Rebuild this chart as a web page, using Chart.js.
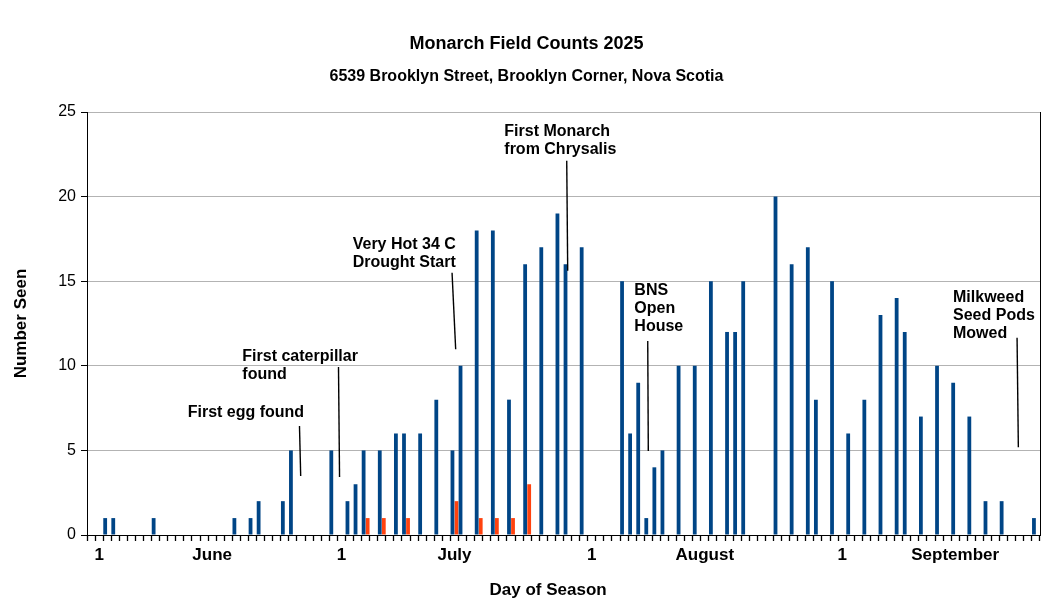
<!DOCTYPE html>
<html>
<head>
<meta charset="utf-8">
<script src="https://cdn.jsdelivr.net/npm/chart.js@4.4.1/dist/chart.umd.min.js"></script>
<style>
  html, body { margin: 0; padding: 0; background: #ffffff; }
  #wrap { width: 1053px; height: 608px; }
</style>
</head>
<body>
<div id="wrap"><canvas id="c" width="1053" height="608"></canvas></div>
<script>
// ---------------- DATA ----------------
const seasonStartYear = 2025, seasonStartMonth = 4, seasonStartDay = 31; // May 31, 2025
const seasonLength = 118; // May 31 .. Sep 25
const monthAbbr = ['Jan','Feb','Mar','Apr','May','Jun','Jul','Aug','Sep','Oct','Nov','Dec'];

// Blue series: dates and counts
const blueDates = [
  'Jun 2','Jun 3','Jun 8','Jun 18','Jun 20','Jun 21','Jun 24','Jun 25','Jun 30',
  'Jul 2','Jul 3','Jul 4','Jul 6','Jul 8','Jul 9','Jul 11','Jul 13','Jul 15','Jul 16',
  'Jul 18','Jul 20','Jul 22','Jul 24','Jul 26','Jul 28','Jul 29','Jul 31',
  'Aug 5','Aug 6','Aug 7','Aug 8','Aug 9','Aug 10','Aug 12','Aug 14','Aug 16','Aug 18',
  'Aug 19','Aug 20','Aug 24','Aug 26','Aug 28','Aug 29','Aug 31',
  'Sep 2','Sep 4','Sep 6','Sep 8','Sep 9','Sep 11','Sep 13','Sep 15','Sep 17','Sep 19',
  'Sep 21','Sep 23','Sep 25'
];
const blueCounts = [
  1,1,1,1,1,2,2,5,5,
  2,3,5,5,6,6,6,8,5,10,
  18,18,8,16,17,19,16,17,
  15,6,9,1,4,5,10,10,15,12,
  12,15,20,16,17,8,15,
  6,8,13,14,12,7,10,9,7,2,
  2,0,1
];

// Orange series: dates and counts
const orangeDates  = ['Jul 4','Jul 6','Jul 9','Jul 15','Jul 18','Jul 20','Jul 22','Jul 24'];
const orangeCounts = [1,1,1,2,1,1,1,3];

// Tick labels on the day axis
const tickLabels = {
  'Jun 1':'1', 'Jun 15':'June',
  'Jul 1':'1', 'Jul 15':'July',
  'Aug 1':'1', 'Aug 15':'August',
  'Sep 1':'1', 'Sep 15':'September'
};

// Notes: text lines, text anchor [day offset, count], leader line [[day,count],[day,count]]
const notes = [
  { lines: ['First egg found'],                 at: [12.47, 7.21],  leader: [[26.31, 6.44], [26.46, 3.49]] },
  { lines: ['First caterpillar', 'found'],      at: [19.23, 10.54], leader: [[31.14, 9.93], [31.27, 3.43]] },
  { lines: ['Very Hot 34 C', 'Drought Start'],  at: [32.90, 17.17], leader: [[45.20, 15.50], [45.65, 10.98]] },
  { lines: ['First Monarch', 'from Chrysalis'], at: [51.67, 23.85], leader: [[59.40, 22.12], [59.52, 15.62]] },
  { lines: ['BNS', 'Open', 'House'],            at: [67.77, 14.45], leader: [[69.43, 11.47], [69.50, 4.96]] },
  { lines: ['Milkweed', 'Seed Pods', 'Mowed'],  at: [107.23, 14.05], leader: [[115.16, 11.66], [115.32, 5.18]] }
];

// ---------------- BUILD ----------------
const categories = [];
for (let i = 0; i < seasonLength; i++) {
  const d = new Date(seasonStartYear, seasonStartMonth, seasonStartDay + i);
  categories.push(monthAbbr[d.getMonth()] + ' ' + d.getDate());
}
const blueData = blueDates.map((d, i) => ({ x: d, y: blueCounts[i] }));
const orangeData = orangeDates.map((d, i) => ({ x: d, y: orangeCounts[i] }));

const FONT = '"Liberation Sans", Arial, Helvetica, sans-serif';

const overlay = {
  id: 'overlay',
  afterDraw(chart) {
    const { ctx, chartArea: a, scales: { y } } = chart;
    const w = a.width / categories.length;
    const px = d => a.left + d * w;
    ctx.save();
    // right frame line
    ctx.strokeStyle = '#000';
    ctx.lineWidth = 1;
    const rx = Math.round(a.right) + 0.5;
    ctx.beginPath();
    ctx.moveTo(rx, a.top);
    ctx.lineTo(rx, a.bottom);
    ctx.stroke();
    // notes
    ctx.fillStyle = '#000';
    ctx.font = 'bold 16px ' + FONT;
    ctx.textAlign = 'left';
    ctx.textBaseline = 'middle';
    notes.forEach(n => {
      const tx = px(n.at[0]);
      const ty = y.getPixelForValue(n.at[1]);
      n.lines.forEach((t, i) => ctx.fillText(t, tx, ty + i * 18));
      ctx.lineWidth = 1.4;
      ctx.beginPath();
      ctx.moveTo(px(n.leader[0][0]), y.getPixelForValue(n.leader[0][1]));
      ctx.lineTo(px(n.leader[1][0]), y.getPixelForValue(n.leader[1][1]));
      ctx.stroke();
    });
    // x axis title
    ctx.font = 'bold 17px ' + FONT;
    ctx.textAlign = 'center';
    ctx.fillText('Day of Season', px(57.1), chart.height - 18);
    ctx.restore();
  }
};

new Chart(document.getElementById('c'), {
  type: 'bar',
  data: {
    labels: categories,
    datasets: [
      { label: 'Series 1', data: blueData, backgroundColor: '#004586', borderWidth: 0,
        categoryPercentage: 1.0, barPercentage: 0.94 },
      { label: 'Series 2', data: orangeData, backgroundColor: '#ff420e', borderWidth: 0,
        categoryPercentage: 1.0, barPercentage: 0.94 }
    ]
  },
  options: {
    responsive: false,
    animation: false,
    devicePixelRatio: 1,
    layout: { padding: { left: 13, right: 13, top: 0, bottom: 0 } },
    plugins: {
      legend: { display: false },
      tooltip: { enabled: false },
      title: {
        display: true, text: 'Monarch Field Counts 2025', color: '#000',
        font: { family: FONT, size: 18, weight: 'bold', lineHeight: 1.2 },
        padding: { top: 33.2, bottom: 0 }
      },
      subtitle: {
        display: true, text: '6539 Brooklyn Street, Brooklyn Corner, Nova Scotia', color: '#000',
        font: { family: FONT, size: 16, weight: 'bold', lineHeight: 1.2 },
        padding: { top: 12.6, bottom: 25.4 }
      }
    },
    scales: {
      x: {
        type: 'category',
        offset: true,
        afterFit(scale) { scale.height = 73; },
        grid: { display: true, offset: true, drawOnChartArea: false, drawTicks: true,
                tickLength: 6, tickColor: '#000', tickWidth: 1.3 },
        border: { display: true, color: '#000', width: 1 },
        ticks: {
          autoSkip: false, maxRotation: 0, minRotation: 0, padding: 4, color: '#000',
          font: { family: FONT, size: 17, weight: 'bold' },
          callback(value) {
            const lab = this.getLabelForValue(value);
            return tickLabels[lab] || '';
          }
        }
      },
      y: {
        min: 0, max: 25,
        afterFit(scale) { scale.width = 74; },
        grid: { color: '#b3b3b3', lineWidth: 1, drawTicks: true, tickLength: 6,
                tickColor: '#000', tickWidth: 1 },
        border: { display: true, color: '#000', width: 1 },
        ticks: { stepSize: 5, padding: 5, color: '#000',
                 font: { family: FONT, size: 16 } },
        title: { display: true, text: 'Number Seen', color: '#000',
                 font: { family: FONT, size: 17, weight: 'bold', lineHeight: 1.0 },
                 padding: { top: 0, bottom: 0 } }
      }
    }
  },
  plugins: [overlay]
});
</script>
</body>
</html>
